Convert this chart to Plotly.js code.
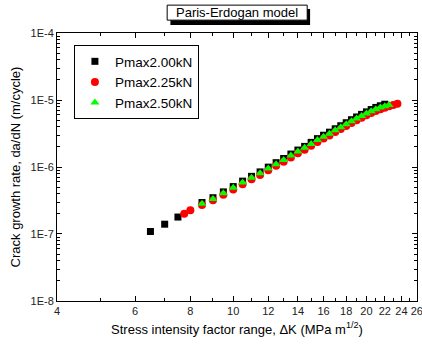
<!DOCTYPE html>
<html>
<head>
<meta charset="utf-8">
<script src="https://cdn.plot.ly/plotly-3.0.1.min.js"></script>
<style>html,body{margin:0;padding:0;background:#fff;}#chart{width:422px;height:344px;}</style>
</head>
<body>
<div id="chart"></div>
<script>
// Pmax 2.00 kN
const dK_200 = [6.5, 7.0, 7.5, 8.5, 9.0, 9.5, 10.0, 10.5, 11.0, 11.5, 12.0, 12.5, 13.0, 13.5, 14.0, 14.5, 15.0, 15.5, 16.0, 16.5, 17.0, 17.5, 18.0, 18.5, 19.0, 19.5, 20.0, 20.5, 21.0, 21.5, 22.0];
const dadN_200 = [1.09e-7, 1.40e-7, 1.79e-7, 2.95e-7, 3.48e-7, 4.25e-7, 5.10e-7, 6.15e-7, 7.25e-7, 8.45e-7, 9.95e-7, 1.16e-6, 1.34e-6, 1.56e-6, 1.79e-6, 2.03e-6, 2.33e-6, 2.65e-6, 2.98e-6, 3.31e-6, 3.72e-6, 4.13e-6, 4.58e-6, 5.08e-6, 5.58e-6, 6.10e-6, 6.65e-6, 7.20e-6, 7.75e-6, 8.20e-6, 8.65e-6];
// Pmax 2.25 kN
const dK_225 = [7.75, 8.0, 8.5, 9.0, 9.5, 10.0, 10.5, 11.0, 11.5, 12.0, 12.5, 13.0, 13.5, 14.0, 14.5, 15.0, 15.5, 16.0, 16.5, 17.0, 17.5, 18.0, 18.5, 19.0, 19.5, 20.0, 20.5, 21.0, 21.5, 22.0, 22.5, 23.0, 23.5];
const dadN_225 = [2.01e-7, 2.26e-7, 2.70e-7, 3.18e-7, 3.85e-7, 4.62e-7, 5.55e-7, 6.55e-7, 7.60e-7, 8.95e-7, 1.04e-6, 1.20e-6, 1.39e-6, 1.60e-6, 1.81e-6, 2.08e-6, 2.37e-6, 2.66e-6, 2.95e-6, 3.32e-6, 3.68e-6, 4.09e-6, 4.54e-6, 4.98e-6, 5.44e-6, 5.92e-6, 6.40e-6, 6.85e-6, 7.25e-6, 7.65e-6, 8.05e-6, 8.45e-6, 8.80e-6];
// Pmax 2.50 kN
const dK_250 = [8.5, 9.0, 9.5, 10.0, 10.5, 11.0, 11.5, 12.0, 12.5, 13.0, 13.5, 14.0, 14.5, 15.0, 15.5, 16.0, 16.5, 17.0, 17.5, 18.0, 18.5, 19.0, 19.5, 20.0, 20.5, 21.0, 21.5, 22.0, 22.5];
const dadN_250 = [2.82e-7, 3.33e-7, 4.05e-7, 4.88e-7, 5.88e-7, 6.92e-7, 8.05e-7, 9.48e-7, 1.10e-6, 1.27e-6, 1.48e-6, 1.70e-6, 1.93e-6, 2.21e-6, 2.52e-6, 2.83e-6, 3.14e-6, 3.53e-6, 3.92e-6, 4.36e-6, 4.83e-6, 5.30e-6, 5.78e-6, 6.28e-6, 6.78e-6, 7.25e-6, 7.70e-6, 8.10e-6, 8.45e-6];

const seriesNames = ["Pmax2.00kN", "Pmax2.25kN", "Pmax2.50kN"];
const xTickVals = [4, 6, 8, 10, 12, 14, 16, 18, 20, 22, 24, 26];
const xTickText = ["4", "6", "8", "10", "12", "14", "16", "18", "20", "22", "24", "26"];
const xMinorVals = [5, 7, 9, 11, 13, 15, 17, 19, 21, 23, 25];
const yTickVals = [1e-8, 1e-7, 1e-6, 1e-5, 1e-4];
const yTickText = ["1E-8", "1E-7", "1E-6", "1E-5", "1E-4"];

const yMinorVals = [];
for (let d = -8; d < -4; d++) {
  for (let m = 2; m <= 9; m++) yMinorVals.push(m * Math.pow(10, d));
}

const FONT = "Liberation Sans, Arial, sans-serif";

const traces = [
  {x: dK_200, y: dadN_200, name: seriesNames[0], type: "scatter", mode: "markers",
   marker: {symbol: "square", size: 7, color: "#000000"}},
  {x: dK_225, y: dadN_225, name: seriesNames[1], type: "scatter", mode: "markers",
   marker: {symbol: "circle", size: 8, color: "#ff0000"}},
  {x: dK_250, y: dadN_250, name: seriesNames[2], type: "scatter", mode: "markers",
   marker: {symbol: "triangle-up", size: 8, color: "#00ff00"}}
];

const axisCommon = {
  showgrid: false, zeroline: false, showline: true, linecolor: "#000", linewidth: 1,
  mirror: "ticks", ticks: "inside", ticklen: 5, tickcolor: "#000", tickwidth: 1,
  ticklabeloverflow: "allow",
  tickfont: {family: FONT, size: 11, color: "#222"}
};

const layout = {
  width: 422, height: 344,
  margin: {l: 57, r: 5, t: 33, b: 43},
  paper_bgcolor: "#fff", plot_bgcolor: "#fff",
  font: {family: FONT, color: "#000"},
  showlegend: true,
  legend: {
    x: 0.047, y: 0.955, xanchor: "left", yanchor: "top",
    bordercolor: "#000", borderwidth: 1, bgcolor: "#fff",
    font: {family: FONT, size: 13.5, color: "#000"},
    itemwidth: 30, tracegroupgap: 0
  },
  xaxis: Object.assign({}, axisCommon, {
    type: "log", range: [Math.log10(4) - 0.0003, Math.log10(26) + 0.0003],
    tickmode: "array", tickvals: xTickVals, ticktext: xTickText,
    minor: {tickmode: "array", tickvals: xMinorVals, ticks: "inside", ticklen: 3, tickcolor: "#000"},
    title: {text: "Stress intensity factor range, \u0394K (MPa m<sup>1/2</sup>)", font: {family: FONT, size: 13, color: "#000"}, standoff: 8}
  }),
  yaxis: Object.assign({}, axisCommon, {
    type: "log", range: [-8.0003, -3.9997],
    tickmode: "array", tickvals: yTickVals, ticktext: yTickText,
    minor: {tickmode: "array", tickvals: yMinorVals, ticks: "inside", ticklen: 3, tickcolor: "#000"},
    title: {text: "Crack growth rate, da/dN (m/cycle)", font: {family: FONT, size: 13, color: "#000"}, standoff: 6}
  }),
  shapes: [
    {type: "rect", xref: "paper", yref: "paper", x0: 0.315, x1: 0.703, y0: 1.030, y1: 1.090,
     fillcolor: "#000", line: {width: 0}, layer: "above"},
    {type: "rect", xref: "paper", yref: "paper", x0: 0.306, x1: 0.695, y0: 1.048, y1: 1.104,
     fillcolor: "#fff", line: {color: "#000", width: 1}, layer: "above"}
  ],
  annotations: [
    {xref: "paper", yref: "paper", x: 0.5, y: 1.076, xanchor: "center", yanchor: "middle",
     text: "Paris-Erdogan model", showarrow: false, font: {family: FONT, size: 13, color: "#000"}}
  ]
};

Plotly.newPlot("chart", traces, layout, {staticPlot: true, displayModeBar: false});
</script>
</body>
</html>
